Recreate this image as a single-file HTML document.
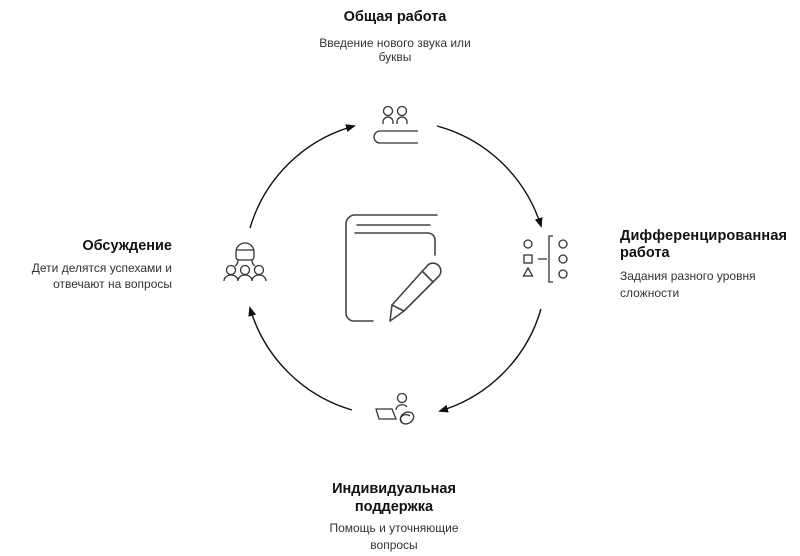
<!DOCTYPE html>
<html><head><meta charset="utf-8"><style>
body{margin:0;background:#fff}
svg{display:block}
text{font-family:"Liberation Sans",sans-serif;fill:#1a1a1a}
.b{font-weight:bold;font-size:14.5px;fill:#111}
.n{font-size:12px;fill:#333}
</style></head><body>
<svg width="800" height="556" viewBox="0 0 800 556" xmlns="http://www.w3.org/2000/svg">
<defs><marker id="a" markerWidth="10" markerHeight="10" refX="8" refY="5" orient="auto" markerUnits="userSpaceOnUse"><path d="M0,1 L10,5 L0,9 Z" fill="#111"/></marker></defs>
<g fill="none" stroke="#111" stroke-width="1.4">
<path d="M250,228 A150,150 0 0 1 354,126" marker-end="url(#a)"/>
<path d="M437,126 A150,150 0 0 1 541,226" marker-end="url(#a)"/>
<path d="M541,309 A150,150 0 0 1 440,411" marker-end="url(#a)"/>
<path d="M352,410 A150,150 0 0 1 250,308" marker-end="url(#a)"/>
</g>
<!-- top icon -->
<g fill="none" stroke="#333" stroke-width="1.3">
<circle cx="388" cy="111" r="4.5"/><circle cx="402" cy="111" r="4.5"/>
<path d="M383,124 v-2 a5,5 0 0 1 10,0 v2 M397,124 v-2 a5,5 0 0 1 10,0 v2"/>
<path d="M418,131 H380 a6,6 0 0 0 0,12 H418"/>
</g>
<!-- right icon -->
<g fill="none" stroke="#333" stroke-width="1.3">
<circle cx="528" cy="244" r="4"/><rect x="524" y="255" width="8" height="8"/><path d="M528,268 l4.5,8 h-9 z"/>
<path d="M538,259 h9 M553,236 h-4 v46 h4"/>
<circle cx="563" cy="244" r="4"/><circle cx="563" cy="259" r="4"/><circle cx="563" cy="274" r="4"/>
</g>
<!-- left icon -->
<g fill="none" stroke="#333" stroke-width="1.3">
<path d="M236,252 a9,9 0 0 1 18,0 v5 a3,3 0 0 1 -3,3 h-12 a3,3 0 0 1 -3,-3 z M236,250 h18"/>
<path d="M238,260 q0,4 -3,6 M252,260 q0,4 3,6"/>
<circle cx="231" cy="270" r="4.5"/><circle cx="245" cy="270" r="4.5"/><circle cx="259" cy="270" r="4.5"/>
<path d="M224,281 a7,6 0 0 1 14,0 a7,6 0 0 1 14,0 a7,6 0 0 1 14,0"/>
</g>
<!-- bottom icon -->
<g fill="none" stroke="#333" stroke-width="1.3">
<circle cx="402" cy="398" r="4.5"/>
<path d="M396,410 a6,5 0 0 1 11,-3"/>
<path d="M376,409 h16 l4,10 h-17 z"/>
<ellipse cx="407" cy="418" rx="7" ry="5.5" transform="rotate(-30 407 418)"/>
<path d="M402,422 a5,4 0 0 1 8,-6"/>
</g>
<!-- center book -->
<g fill="none" stroke="#444" stroke-width="1.6" stroke-linecap="round" stroke-linejoin="round">
<path d="M437,215 H355 a9,9 0 0 0 -9,9 V313 a8,8 0 0 0 8,8 H373"/>
<path d="M357,225 H430"/>
<path d="M355,233 H428 a7,7 0 0 1 7,7 V255"/>
<path d="M427,266 a6,6 0 0 1 12,10 L404,311 L390,321 L392,305 Z"/>
<path d="M392,305 L404,311 M422,271 L433,282"/>
</g>
<text class="b" x="395" y="21" text-anchor="middle">Общая работа</text>
<text class="n" x="395" y="47" text-anchor="middle">Введение нового звука или</text>
<text class="n" x="395" y="61" text-anchor="middle">буквы</text>
<text class="b" x="620" y="240" textLength="167">Дифференцированная</text>
<text class="b" x="620" y="257">работа</text>
<text class="n" x="620" y="280">Задания разного уровня</text>
<text class="n" x="620" y="297">сложности</text>
<text class="b" x="172" y="250" text-anchor="end">Обсуждение</text>
<text class="n" x="172" y="272" text-anchor="end">Дети делятся успехами и</text>
<text class="n" x="172" y="288" text-anchor="end">отвечают на вопросы</text>
<text class="b" x="394" y="493" text-anchor="middle">Индивидуальная</text>
<text class="b" x="394" y="511" text-anchor="middle">поддержка</text>
<text class="n" x="394" y="532" text-anchor="middle">Помощь и уточняющие</text>
<text class="n" x="394" y="549" text-anchor="middle">вопросы</text>
</svg>
</body></html>
